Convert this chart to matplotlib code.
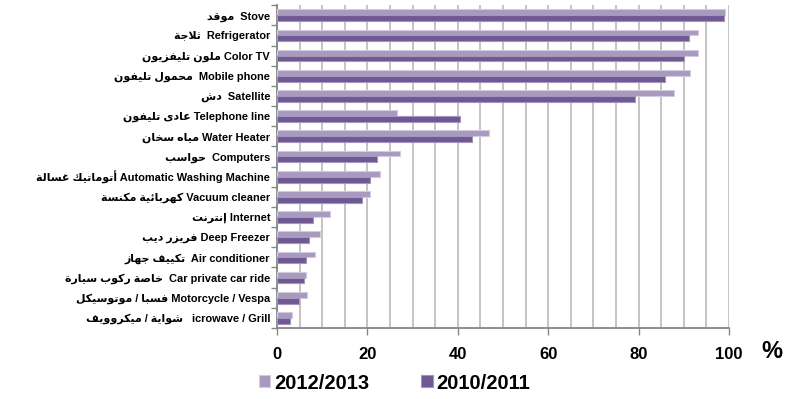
import numpy as np
import matplotlib
matplotlib.use("Agg")
import matplotlib.pyplot as plt
import matplotlib.ticker as ticker

items_en = ["Stove", "Refrigerator", "Color TV", "Mobile phone", "Satellite",
            "Telephone line", "Water Heater", "Computers",
            "Automatic Washing Machine", "Vacuum cleaner", "Internet",
            "Deep Freezer", "Air conditioner", "Car private car ride",
            "Motorcycle / Vespa", "icrowave / Grill"]
items_ar = ["موقد", "ثلاجة", "تليفزيون ملون", "تليفون محمول", "دش",
            "تليفون عادى", "سخان مياه", "حواسب", "غسالة أتوماتيك",
            "مكنسة كهربائية", "إنترنت", "ديب فريزر", "جهاز تكييف",
            "سيارة ركوب خاصة", "موتوسيكل / فسبا", "ميكروويف / شواية"]
gaps = ["  ", "  ", " ", "  ", "  ", " ", " ", "  ", " ", " ", " ", " ",
        "  ", "  ", " ", "   "]

pct_1213 = [99.2, 93.2, 93.2, 91.4, 87.8, 26.5, 47.0, 27.3,
            22.7, 20.5, 11.7, 9.4, 8.3, 6.3, 6.7, 3.3]
pct_1011 = [99.0, 91.2, 90.0, 85.9, 79.3, 40.5, 43.1, 22.1,
            20.6, 18.8, 7.9, 7.0, 6.4, 6.0, 4.9, 2.9]
series_names = ["2012/2013", "2010/2011"]
xticks = [0, 20, 40, 60, 80, 100]

# --- minimal Arabic shaping (presentation forms, visual order) ---
_forms = {}
for ch, start, n in [("آ", 0xFE81, 2), ("أ", 0xFE83, 2), ("إ", 0xFE87, 2),
                     ("ئ", 0xFE89, 4), ("ا", 0xFE8D, 2), ("ب", 0xFE8F, 4),
                     ("ة", 0xFE93, 2), ("ت", 0xFE95, 4), ("ث", 0xFE99, 4),
                     ("ج", 0xFE9D, 4), ("ح", 0xFEA1, 4), ("خ", 0xFEA5, 4),
                     ("د", 0xFEA9, 2), ("ذ", 0xFEAB, 2), ("ر", 0xFEAD, 2),
                     ("ز", 0xFEAF, 2), ("س", 0xFEB1, 4), ("ش", 0xFEB5, 4),
                     ("ص", 0xFEB9, 4), ("ض", 0xFEBD, 4), ("ط", 0xFEC1, 4),
                     ("ظ", 0xFEC5, 4), ("ع", 0xFEC9, 4), ("غ", 0xFECD, 4),
                     ("ف", 0xFED1, 4), ("ق", 0xFED5, 4), ("ك", 0xFED9, 4),
                     ("ل", 0xFEDD, 4), ("م", 0xFEE1, 4), ("ن", 0xFEE5, 4),
                     ("ه", 0xFEE9, 4), ("و", 0xFEED, 2), ("ى", 0xFEEF, 2),
                     ("ي", 0xFEF1, 4)]:
    _forms[ch] = [chr(start + i) for i in range(n)]
_lam_alef = {"ا": (0xFEFB, 0xFEFC), "أ": (0xFEF7, 0xFEF8),
             "إ": (0xFEF9, 0xFEFA), "آ": (0xFEF5, 0xFEF6)}


def shape_word(word):
    # split into units, merging lam + alef into one ligature unit
    units = []
    i = 0
    while i < len(word):
        c = word[i]
        if c == "ل" and i + 1 < len(word) and word[i + 1] in _lam_alef:
            units.append(("LA", word[i + 1]))
            i += 2
        else:
            units.append(("CH", c))
            i += 1

    def joins_next(u):
        kind, c = u
        return kind == "CH" and c in _forms and len(_forms[c]) == 4

    def is_ar(u):
        return u[0] == "LA" or u[1] in _forms

    out = []
    for k, u in enumerate(units):
        prev_j = k > 0 and joins_next(units[k - 1])
        if u[0] == "LA":
            iso, fin = _lam_alef[u[1]]
            out.append(chr(fin if prev_j else iso))
            continue
        c = u[1]
        if c not in _forms:
            out.append(c)
            continue
        f = _forms[c]
        next_j = (k + 1 < len(units) and is_ar(units[k + 1])
                  and len(f) == 4)
        if prev_j and next_j:
            out.append(f[3])
        elif prev_j:
            out.append(f[1])
        elif next_j:
            out.append(f[2])
        else:
            out.append(f[0])
    return "".join(reversed(out))


def shape(text):
    return " ".join(shape_word(w) for w in text.split(" "))


labels = [shape(a) + g + e for a, g, e in zip(items_ar, gaps, items_en)]

light = "#A899BF"
dark = "#6F5893"
grid_c = "#BFBFBF"
axis_c = "#868686"
fam = ["Liberation Sans", "DejaVu Sans"]

fig = plt.figure(figsize=(7.94, 3.99), dpi=100)
ax = fig.add_axes([0.349, 0.178, 0.569, 0.809])

y = np.arange(len(items_en))
h = 0.29
ax.barh(y - h / 2, pct_1213, height=h, color=light, edgecolor="#D3CBDF",
        lw=0.8, label=series_names[0], zorder=3)
ax.barh(y + h / 2, pct_1011, height=h, color=dark, edgecolor="#A395BB",
        lw=0.8, label=series_names[1], zorder=3)

ax.set_xlim(0, 100)
ax.set_ylim(len(items_en) - 0.5, -0.5)

ax.xaxis.set_major_locator(ticker.FixedLocator(xticks))
ax.xaxis.set_minor_locator(ticker.MultipleLocator(5))
ax.grid(axis="x", which="both", color=grid_c, lw=1.3, zorder=0)
ax.tick_params(axis="x", which="major", length=5, width=1, color=axis_c,
               pad=9, labelsize=12)
ax.tick_params(axis="x", which="minor", length=0)
for t in ax.get_xticklabels():
    t.set_fontweight("bold")
    t.set_family(fam)

ax.set_yticks(y)
ax.set_yticklabels(labels, fontsize=7.9, fontweight="bold", family=fam)
ax.yaxis.set_minor_locator(ticker.FixedLocator(np.arange(-0.5, len(y), 1)))
ax.tick_params(axis="y", which="major", length=0, pad=5)
ax.tick_params(axis="y", which="minor", length=4, width=1, color=axis_c)

for side in ["top", "right"]:
    ax.spines[side].set_visible(False)
for side in ["left", "bottom"]:
    ax.spines[side].set_color(axis_c)
    ax.spines[side].set_linewidth(1.3)

fig.text(0.972, 0.118, "%", fontsize=17, fontweight="bold", family=fam,
         ha="center", va="center")

fig.legend(loc="center", bbox_to_anchor=(0.497, 0.04), ncol=2,
           frameon=False, prop={"family": fam, "weight": "bold", "size": 14.5},
           handlelength=0.55, handleheight=0.55, handletextpad=0.2,
           columnspacing=2.6)

fig.savefig("out.png", dpi=100)
